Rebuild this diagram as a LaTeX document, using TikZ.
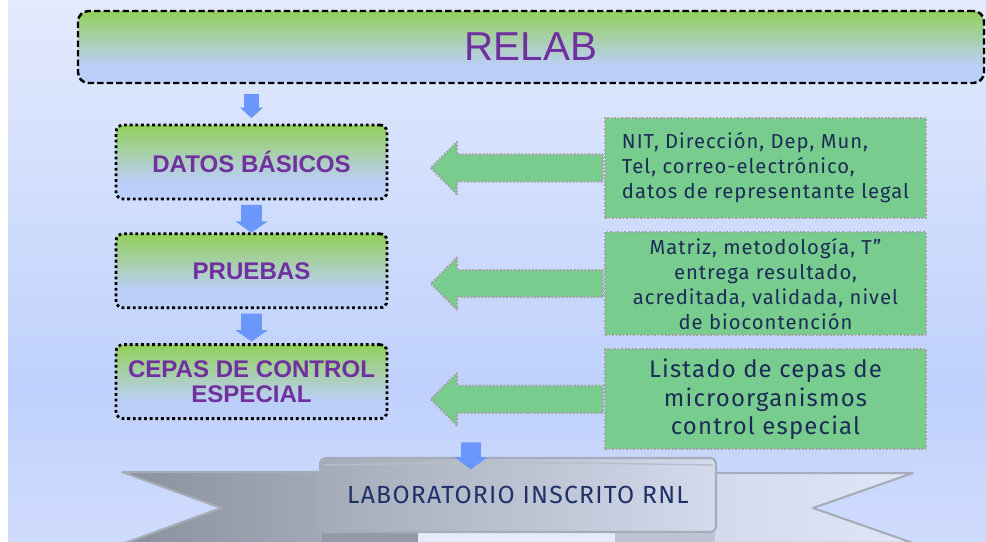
\documentclass[tikz,border=0pt]{standalone}
\usepackage{fontspec}
\setmainfont{Liberation Sans}
\newfontfamily\firafont[LetterSpace=5]{Fira Sans}
\usetikzlibrary{shapes.arrows, positioning, calc}

\definecolor{relgreen}{HTML}{92D05A}
\definecolor{relblue}{HTML}{BCCFF8}
\definecolor{relpurple}{HTML}{7030A0}
\definecolor{infogreen}{HTML}{78CC8D}
\definecolor{infogray}{HTML}{A3A3A3}
\definecolor{infotext}{HTML}{1C2B57}
\definecolor{downblue}{HTML}{6A97FB}
\definecolor{bgtop}{HTML}{E3EAFD}
\definecolor{bgmid}{HTML}{BFD1FC}
\definecolor{bgbot}{HTML}{D0DCFD}
\definecolor{bandedge}{HTML}{A6ACB8}
\definecolor{banddark}{HTML}{8A909C}
\definecolor{bandmid}{HTML}{A4ABB8}
\definecolor{bandlight}{HTML}{D2DAEC}
\definecolor{bandpale}{HTML}{DFE6F7}
\definecolor{bandtext}{HTML}{1F3066}

\pgfdeclareverticalshading{greenblue}{100bp}{color(0bp)=(relblue); color(37bp)=(relblue); color(75bp)=(relgreen); color(100bp)=(relgreen)}
\pgfdeclareverticalshading{slidebg}{100bp}{color(0bp)=(bgbot); color(25bp)=(bgbot); color(39bp)=(bgmid); color(75bp)=(bgtop); color(100bp)=(bgtop)}

\tikzstyle{titlebox} = [rectangle, rounded corners=6pt, minimum width=18.12cm, minimum height=1.44cm, text centered, draw=black, dash pattern=on 3.6pt off 1.8pt, line width=1.4pt, shade, shading=greenblue, text=relpurple, font=\fontsize{23}{27}\selectfont]
\tikzstyle{stepbox} = [rectangle, rounded corners=4pt, minimum width=5.42cm, minimum height=1.48cm, inner xsep=2pt, align=center, draw=black, dash pattern=on 1.6pt off 1.6pt, line width=1.6pt, shade, shading=greenblue, text=relpurple, font=\bfseries\fontsize{13.7}{14.2}\selectfont]
\tikzstyle{infobox} = [rectangle, minimum width=6.42cm, minimum height=2cm, draw=infogray, dash pattern=on 1pt off 1pt, line width=1.2pt, fill=infogreen, text=infotext, font=\firafont\fontsize{11.5}{14.2}\selectfont]
\tikzstyle{downarrow} = [single arrow, shape border rotate=270, fill=downblue, draw=none, single arrow head indent=0pt]
\tikzstyle{leftarrow} = [single arrow, shape border rotate=180, fill=infogreen, draw=infogray, dash pattern=on 1pt off 1pt, line width=1.2pt, inner sep=0.25cm, minimum width=0.98cm, minimum height=3.44cm, single arrow head indent=0pt, single arrow tip angle=90]

\begin{document}
\begin{tikzpicture}[line join=round]
	\useasboundingbox (0,0) rectangle (19.72,-10.82);
	\clip (0,0) rectangle (19.72,-10.82);
	% slide background
	\shade[shading=slidebg] (0.16,0) rectangle (19.72,-10.82);

	% main column
	\node (relab) [titlebox] at (10.62,-0.94) {RELAB};
	\node (datos) [stepbox] at (5.03,-3.24) {DATOS BÁSICOS};
	\node (pruebas) [stepbox, below=0.64cm of datos] {PRUEBAS};
	\node (cepas) [stepbox, below=0.68cm of pruebas] {CEPAS DE CONTROL\\ESPECIAL};

	% right column
	\node (info1) [infobox, align=left] at (15.31,-3.36)
		{NIT, Dirección, Dep, Mun,\\Tel, correo-electrónico,\\datos de representante legal};
	\node (info2) [infobox, align=center, below=0.24cm of info1]
		{Matriz, metodología, T”\\entrega resultado,\\acreditada, validada, nivel\\de biocontención};
	\node (info3) [infobox, align=center, below=0.24cm of info2, font=\firafont\fontsize{13.6}{16}\selectfont]
		{Listado de cepas de\\microorganismos\\control especial};

	\node (larr1) [leftarrow, left=0pt of info1, anchor=tail] {};
	\node (larr2) [leftarrow, left=0pt of info2, anchor=tail] {};
	\node (larr3) [leftarrow, left=0pt of info3, anchor=tail] {};

	% ribbon
	\shade[left color=banddark, right color=bandmid, draw=bandedge, line width=1.2pt]
		(2.44,-9.44) -- (6.7,-9.44) -- (6.7,-10.88) -- (2.44,-10.88) -- (4.42,-10.16) -- cycle;
	\shade[left color=bandlight, right color=bandpale, draw=bandedge, line width=1.2pt]
		(14.2,-9.46) -- (18.26,-9.46) -- (16.26,-10.16) -- (18.26,-10.86) -- (14.2,-10.86) -- cycle;
	\fill[bandmid!90!black] (6.44,-10.6) rectangle (8.36,-10.9);
	\fill[bandpale!80!white] (8.36,-10.64) rectangle (12.3,-10.9);
	\fill[bandlight!90!black] (12.3,-10.6) rectangle (14.3,-10.9);
	\shade[left color=bandmid, right color=bandlight, draw=bandedge, line width=1.2pt, rounded corners=3pt]
		(6.4,-9.16) rectangle (14.32,-10.64);
	\draw[bandedge!80!white, line width=0.8pt] (6.46,-9.3) .. controls (10.36,-9.24) .. (14.26,-9.3);
	\node (banner) [text=bandtext, font=\firafont\fontsize{14.1}{16}\selectfont] at (10.36,-9.9) {LABORATORIO INSCRITO RNL};

	% down arrows
	\node (arr1) [downarrow, inner sep=0.14cm, single arrow head extend=0.08cm, minimum height=0.48cm, single arrow tip angle=95, above=0.1cm of datos, anchor=tip] {};
	\node (arr2) [downarrow, inner sep=0.2cm, single arrow head extend=0.12cm, minimum height=0.5cm, single arrow tip angle=110, below=0.08cm of datos, anchor=tail] {};
	\node (arr3) [downarrow, inner sep=0.2cm, single arrow head extend=0.12cm, minimum height=0.52cm, single arrow tip angle=110, below=0.08cm of pruebas, anchor=tail] {};
	\node (arr4) [downarrow, inner sep=0.19cm, single arrow head extend=0.13cm, minimum height=0.52cm, single arrow tip angle=106, above=0.1cm of banner.north -| info3.west, xshift=-2.66cm, yshift=0.1cm, anchor=tip] {};
\end{tikzpicture}
\end{document}
